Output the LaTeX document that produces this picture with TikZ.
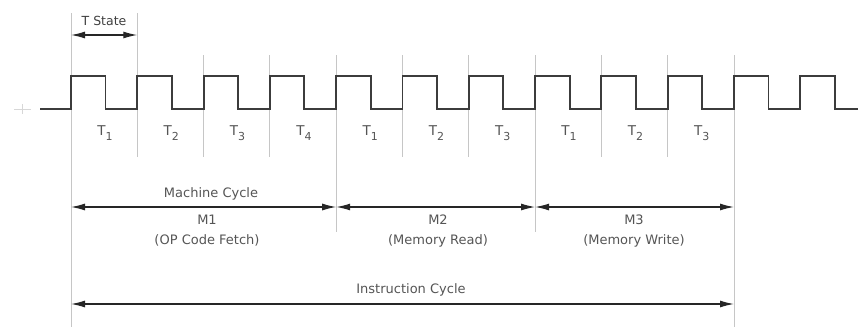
\documentclass[tikz,border=0pt]{standalone}
\usepackage{fontspec}
\setmainfont{DejaVu Sans}
\usetikzlibrary{arrows.meta}
\definecolor{wavecol}{HTML}{3C3C3C}
\definecolor{gridcol}{HTML}{C6C6C6}
\definecolor{textcol}{HTML}{555555}
\definecolor{spancol}{HTML}{262626}
\begin{document}
\begin{tikzpicture}[x=1pt,y=-1pt,
  clockline/.style={draw=wavecol,line width=1.9pt,line join=miter},
  gridline/.style={draw=gridcol,line width=1pt},
  spanarrow/.style={draw=spancol,line width=1.2pt,
    {Latex[length=14pt,width=7pt]}-{Latex[length=14pt,width=7pt]}},
  lbl/.style={text=textcol,inner sep=0pt,align=center,
    font=\fontsize{13}{20}\selectfont},
  tlbl/.style={text=textcol,inner sep=0pt,font=\fontsize{13.5}{15}\selectfont}]
\useasboundingbox (0,0) rectangle (858,327);

% boundaries between T states
\foreach \k in {0,...,10} \coordinate (b\k) at ({71+66.3*\k},0);

% grid lines marking each T state
\draw[gridline] (71,13) -- (71,327);
\draw[gridline] (b1 |- 0,13) -- (b1 |- 0,157);
\foreach \k in {2,3,5,6,8,9} \draw[gridline] (b\k |- 0,55) -- (b\k |- 0,157);
\foreach \k in {4,7} \draw[gridline] (b\k |- 0,55) -- (b\k |- 0,232);
\draw[gridline] (b10 |- 0,55) -- (b10 |- 0,327);

% faint origin mark
\draw[gridcol!70,line width=1pt] (14,109) -- (31,109);
\draw[gridcol!70,line width=1pt] (22,104) -- (22,114);

% clock waveform
\draw[clockline] (40,109)
  foreach \k in {0,...,11} {
    -- ({71+66.3*\k},109) -- ({71+66.3*\k},76)
    -- ({105.5+66.3*\k},76) -- ({105.5+66.3*\k},109) }
  -- (858,109);

% T state span
\coordinate (ts0) at (b0 |- 0,35);
\coordinate (ts1) at (b1 |- 0,35);
\draw[spanarrow] (ts0) -- (ts1);
\node[lbl,text=black!75,font=\fontsize{12.5}{14}\selectfont] (tstate) at (104,21) {T State};

% T state labels
\foreach \k/\n in {0/1,1/2,2/3,3/4,4/1,5/2,6/3,7/1,8/2,9/3}
  \node[tlbl] (t\k) at ({105+66.3*\k},133)
    {T\raisebox{-4.5pt}{\fontsize{11}{11}\selectfont\n}};

% machine cycles
\coordinate (mc0) at (b0 |- 0,207);
\coordinate (mc4) at (b4 |- 0,207);
\coordinate (mc7) at (b7 |- 0,207);
\coordinate (mc10) at (b10 |- 0,207);
\node[lbl] (mctitle) at (211,194) {Machine Cycle};
\draw[spanarrow] (mc0) -- (mc4);
\draw[spanarrow] (mc4) -- (mc7);
\draw[spanarrow] (mc7) -- (mc10);
\node[lbl] (m1) at (207,231) {M1\\(OP Code Fetch)};
\node[lbl] (m2) at (438,231) {M2\\(Memory Read)};
\node[lbl] (m3) at (634,231) {M3\\(Memory Write)};

% instruction cycle
\coordinate (ic0) at (b0 |- 0,304);
\coordinate (ic10) at (b10 |- 0,304);
\node[lbl] (ictitle) at (411,290) {Instruction Cycle};
\draw[spanarrow] (ic0) -- (ic10);
\end{tikzpicture}
\end{document}
